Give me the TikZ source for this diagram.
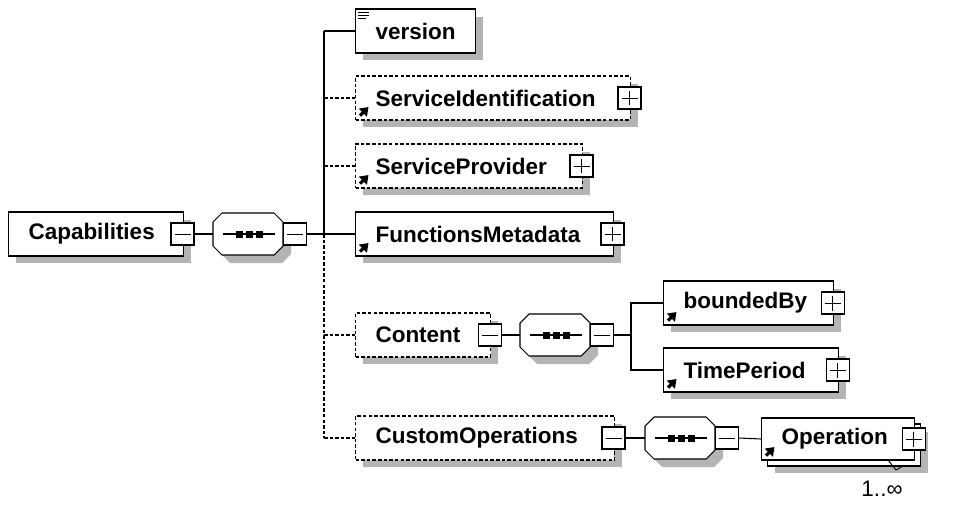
\documentclass[tikz,border=0pt]{standalone}
\usepackage{fontspec}
\setmainfont{Liberation Sans}
\usetikzlibrary{shadows,arrows.meta}

\definecolor{shadowgray}{RGB}{180,180,180}
\newcommand{\elemfont}{\fontsize{12.8}{15}\selectfont\bfseries}

\tikzset{
  elemplain/.style={draw, fill=white, line width=0.6pt, anchor=west, align=left,
    minimum height=0.88cm, inner xsep=0.4cm, font=\elemfont},
  elem/.style={elemplain, drop shadow={shadow xshift=0.15cm, shadow yshift=-0.15cm,
    fill=shadowgray, opacity=1}},
  optelem/.style={elem, dash pattern=on 2pt off 1.2pt},
  minusbox/.style={draw, fill=white, line width=0.6pt, minimum width=0.46cm,
    minimum height=0.44cm, inner sep=0pt,
    path picture={\draw[line width=0.4pt] ([xshift=0.07cm]path picture bounding box.west)
      -- ([xshift=-0.07cm]path picture bounding box.east);}},
  plusbox/.style={minusbox,
    path picture={\draw[line width=0.4pt] ([xshift=0.07cm]path picture bounding box.west)
      -- ([xshift=-0.07cm]path picture bounding box.east)
      ([yshift=0.07cm]path picture bounding box.south)
      -- ([yshift=-0.07cm]path picture bounding box.north);}},
  seqnode/.style={minimum width=1.4cm, minimum height=0.84cm, inner sep=0pt},
  seqpic/.pic={
    \fill[shadowgray] (-18,-13) -- (34,-13) -- (43,-4) -- (43,20) -- (34,29)
      -- (-18,29) -- (-27,20) -- (-27,-4) -- cycle;
    \draw[line width=0.6pt, fill=white] (-26,-21) -- (26,-21) -- (35,-12) -- (35,12)
      -- (26,21) -- (-26,21) -- (-35,12) -- (-35,-12) -- cycle;
    \draw[line width=0.6pt] (-25,0) -- (27,0);
    \fill (-12,-3.5) rectangle (-5,3.5);
    \fill (-2,-3.5) rectangle (5,3.5);
    \fill (8,-3.5) rectangle (15,3.5);
  },
  refarrow/.style={line width=1.8pt, -{Triangle[length=0.16cm,width=0.22cm]}},
  link/.style={line width=0.6pt},
  optlink/.style={link, dash pattern=on 2pt off 1.2pt}
}

\begin{document}
\begin{tikzpicture}[x=0.02cm,y=-0.02cm]
\useasboundingbox (0,0) rectangle (953,510);

% root element and its sequence
\node[elem, text width=2.7cm] (cap) at (8,234) {Capabilities};
\node[minusbox] (capm) at ([xshift=-0.03cm]cap.east) {};
\node[seqnode] (seq1) at (248,234) {};
\pic at (seq1) {seqpic};
\node[minusbox, anchor=west] (seq1m) at ([xshift=-0.01cm]seq1.east) {};
\coordinate (bus) at (324,234);
\draw[link] (capm.east) -- (seq1.west);
\draw[link] (seq1m.east) -- (bus);

% children of Capabilities
\node[elem, text width=1.6cm] (version) at (355,31) {version};
\node[optelem, text width=4.7cm] (si) at (355,98) {ServiceIdentification};
\node[plusbox] (sim) at ([xshift=-0.03cm]si.east) {};
\node[optelem, text width=3.74cm] (sp) at (355,166) {ServiceProvider};
\node[plusbox] (spm) at ([xshift=-0.03cm]sp.east) {};
\node[elem, text width=4.36cm] (fm) at (355,234) {FunctionsMetadata};
\node[plusbox] (fmm) at ([xshift=-0.03cm]fm.east) {};
\node[optelem, text width=1.9cm] (content) at (355,335) {Content};
\node[minusbox] (contentm) at ([xshift=-0.03cm]content.east) {};
\node[optelem, text width=4.38cm] (co) at (355,438) {CustomOperations};
\node[minusbox] (com) at ([xshift=-0.03cm]co.east) {};

% icons
\draw[line width=0.4pt] ([shift={(0.06cm,-0.08cm)}]version.north west) -- ++(0.22cm,0);
\draw[line width=0.4pt] ([shift={(0.06cm,-0.14cm)}]version.north west) -- ++(0.22cm,0);
\draw[line width=0.4pt] ([shift={(0.06cm,-0.2cm)}]version.north west) -- ++(0.16cm,0);
\draw[refarrow] ([shift={(0.1cm,0.1cm)}]si.south west) -- ++(0.17cm,0.17cm);
\draw[refarrow] ([shift={(0.1cm,0.1cm)}]sp.south west) -- ++(0.17cm,0.17cm);
\draw[refarrow] ([shift={(0.1cm,0.1cm)}]fm.south west) -- ++(0.17cm,0.17cm);

% bus
\draw[link] (version.west -| bus) -- (bus);
\draw[optlink] (bus) -- (co.west -| bus);
\draw[link] (version.west -| bus) -- (version.west);
\draw[optlink] (si.west -| bus) -- (si.west);
\draw[optlink] (sp.west -| bus) -- (sp.west);
\draw[link] (bus) -- (fm.west);
\draw[optlink] (content.west -| bus) -- (content.west);
\draw[optlink] (co.west -| bus) -- (co.west);

% Content sequence
\node[seqnode] (seq2) at (555,335) {};
\pic at (seq2) {seqpic};
\node[minusbox, anchor=west] (seq2m) at ([xshift=-0.01cm]seq2.east) {};
\coordinate (subbus) at (631,335);
\node[elem, text width=2.6cm] (bb) at (663,303) {boundedBy};
\node[plusbox] (bbm) at ([xshift=-0.03cm]bb.east) {};
\node[elem, text width=2.7cm] (tp) at (663,370) {TimePeriod};
\node[plusbox] (tpm) at ([xshift=-0.03cm]tp.east) {};
\draw[refarrow] ([shift={(0.1cm,0.1cm)}]bb.south west) -- ++(0.17cm,0.17cm);
\draw[refarrow] ([shift={(0.1cm,0.1cm)}]tp.south west) -- ++(0.17cm,0.17cm);
\draw[link] (contentm.east) -- (seq2.west);
\draw[link] (seq2m.east) -- (subbus);
\draw[link] (bb.west) -| (subbus) |- (tp.west);

% CustomOperations sequence
\node[seqnode] (seq3) at (680,438) {};
\pic at (seq3) {seqpic};
\node[minusbox, anchor=west] (seq3m) at ([xshift=-0.01cm]seq3.east) {};
\node[elem, minimum width=3.06cm, minimum height=0.84cm] (opback) at (767,445) {};
\node[elemplain, text width=2.26cm, minimum height=0.84cm] (op) at (761,439) {Operation};
\node[plusbox] (opm) at ([xshift=-0.03cm]op.east) {};
\draw[refarrow] ([shift={(0.1cm,0.1cm)}]op.south west) -- ++(0.17cm,0.17cm);
\draw[line width=0.5pt] (888,460) -- (896,470) -- (903,466);
\node[font=\fontsize{12.8}{15}\selectfont] (occurs) at (882,489) {1..∞};
\draw[link] (com.east) -- (seq3.west);
\draw[link] (seq3m.east) -- (op.west);
\end{tikzpicture}
\end{document}
